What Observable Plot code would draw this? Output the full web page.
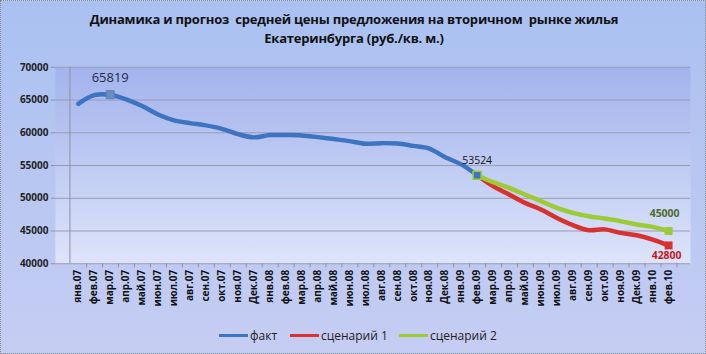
<!DOCTYPE html>
<html>
<head>
<meta charset="utf-8">
<script src="https://cdn.jsdelivr.net/npm/d3@7"></script>
<script src="https://cdn.jsdelivr.net/npm/@observablehq/plot@0.6"></script>
<style>
  html, body { margin: 0; padding: 0; }
  #chart {
    position: relative; width: 706px; height: 354px; box-sizing: border-box;
    border: 1px dotted #8a8a8a;
    background: linear-gradient(to bottom, #a9c1f1 0%, #b6c6f1 45%, #c6cdf3 100%);
    font-family: "Open Sans", "DejaVu Sans", sans-serif; overflow: hidden;
  }
  #title {
    position: absolute; left: 0; top: 9px; width: 706px; text-align: center;
    font-family: "Open Sans", sans-serif; font-weight: bold; font-size: 13px;
    line-height: 19px; color: #111; letter-spacing: -0.2px;
  }
  #plot { position: absolute; left: 0; top: 0; }
  #legend {
    position: absolute; top: 326px; left: 0; width: 706px; font-size: 12px; color: #222;
  }
  .li { position: absolute; top: 0; display: flex; align-items: center; }
  .sw { display: inline-block; width: 29px; height: 3px; margin-right: 2px; }
</style>
</head>
<body>
<div id="chart">
  <div id="title">Динамика и прогноз&nbsp; средней цены предложения на вторичном&nbsp; рынке жилья<br>Екатеринбурга (руб./кв. м.)</div>
  <div id="plot"></div>
  <div id="legend">
    <div class="li" style="left:218px"><span class="sw" style="background:#3d74c1"></span>факт</div>
    <div class="li" style="left:289px"><span class="sw" style="background:#d8322f"></span>сценарий 1</div>
    <div class="li" style="left:398px"><span class="sw" style="background:#9ccb35"></span>сценарий 2</div>
  </div>
</div>
<script>
const months = ["янв.07","фев.07","мар.07","апр.07","май.07","июн.07","июл.07","авг.07","сен.07","окт.07","ноя.07","Дек.07",
  "янв.08","фев.08","мар.08","апр.08","май.08","июн.08","июл.08","авг.08","сен.08","окт.08","ноя.08","Дек.08",
  "янв.09","фев.09","мар.09","апр.09","май.09","июн.09","июл.09","авг.09","сен.09","окт.09","ноя.09","Дек.09",
  "янв.10","фев.10"];
const fact = [64430, 65750, 65819, 65100, 64080, 62800, 61900, 61480, 61130, 60610, 59800, 59300,
  59650, 59650, 59600, 59340, 59040, 58730, 58320, 58420, 58350, 58000, 57600, 56280,
  55170, 53524];
const scen1 = [53524, 51850, 50580, 49300, 48290, 47000, 45890, 45120, 45250, 44710, 44360, 43700, 42800];
const scen2 = [53524, 52460, 51600, 50580, 49560, 48530, 47770, 47260, 46900, 46500, 46000, 45630, 45000];
const yTicks = [40000, 45000, 50000, 55000, 60000, 65000, 70000];

const factData = fact.map((v, i) => ({m: months[i], v}));
const off = fact.length - 1;
const s1Data = scen1.map((v, i) => ({m: months[off + i], v}));
const s2Data = scen2.map((v, i) => ({m: months[off + i], v}));
const last = months.length - 1;

const W = 706, H = 354, ML = 54, MR = 15, MT = 66, MB = 91;
const step = (W - ML - MR) / months.length;

const chart = Plot.plot({
  width: W, height: H,
  marginLeft: ML, marginRight: MR, marginTop: MT, marginBottom: MB,
  style: {background: "transparent", fontFamily: "'Open Sans', sans-serif", overflow: "visible"},
  x: {type: "point", domain: months, padding: 0.5, label: null},
  y: {domain: [40000, 70000], label: null},
  marks: [
    Plot.frame({fill: "url(#plotGrad)", stroke: null}),
    Plot.ruleY(yTicks, {stroke: "#9c9bb0", strokeWidth: 1}),
    Plot.ruleX([months[0]], {dx: -step / 2, stroke: "#8f8fa3"}),
    Plot.axisY({ticks: yTicks, tickSize: 4, tickFormat: d => String(d), fontWeight: "bold", fontSize: 10, fill: "#222", stroke: "#8f8fa3", tickPadding: 3}),
    Plot.axisX({tickSize: 4, dx: step / 2, text: null, stroke: "#8f8fa3"}),
    Plot.axisX({tickSize: 0, tickRotate: -90, tickPadding: 6, fontWeight: "bold", fontSize: 10, fill: "#111", textAnchor: "end"}),
    Plot.line(factData, {x: "m", y: "v", stroke: "#3d74c1", strokeWidth: 4.5, curve: "catmull-rom"}),
    Plot.line(s1Data, {x: "m", y: "v", stroke: "#d8322f", strokeWidth: 4.5, curve: "catmull-rom"}),
    Plot.line(s2Data, {x: "m", y: "v", stroke: "#9ccb35", strokeWidth: 4.5, curve: "catmull-rom"}),
    Plot.dot([factData[2]], {x: "m", y: "v", symbol: "square", r: 4.5, fill: "#6b8cc0", stroke: "#5a7fb8", strokeWidth: 1}),
    Plot.dot([factData[off]], {x: "m", y: "v", symbol: "square", r: 4.5, fill: "#3d74c1", stroke: "#9ccb35", strokeWidth: 1.5}),
    Plot.dot([s1Data[s1Data.length - 1]], {x: "m", y: "v", symbol: "square", r: 4.5, fill: "#d8322f"}),
    Plot.dot([s2Data[s2Data.length - 1]], {x: "m", y: "v", symbol: "square", r: 4.5, fill: "#9ccb35"}),
    Plot.text([factData[2]], {x: "m", y: "v", text: d => String(d.v), dy: -17, fontSize: 13, fill: "#1f2d4a"}),
    Plot.text([factData[off]], {x: "m", y: "v", text: d => String(d.v), dy: -15, fontSize: 10.5, fill: "#111"}),
    Plot.text([s2Data[s2Data.length - 1]], {x: "m", y: "v", text: d => String(d.v), dy: -17, dx: -4, fontSize: 10.5, fontWeight: "bold", fill: "#4f6b2a"}),
    Plot.text([s1Data[s1Data.length - 1]], {x: "m", y: "v", text: d => String(d.v), dy: 10, dx: -2, fontSize: 10.5, fontWeight: "bold", fill: "#c51a1a"})
  ]
});

const svg = d3.select(chart);
const defs = svg.insert("defs", ":first-child");
const g = defs.append("linearGradient").attr("id", "plotGrad").attr("x1", 0).attr("y1", 0).attr("x2", 0).attr("y2", 1);
g.append("stop").attr("offset", "0%").attr("stop-color", "#a3b3ec");
g.append("stop").attr("offset", "50%").attr("stop-color", "#bfcbf3");
g.append("stop").attr("offset", "100%").attr("stop-color", "#dde4fa");
document.getElementById("plot").appendChild(chart);
</script>
</body>
</html>
